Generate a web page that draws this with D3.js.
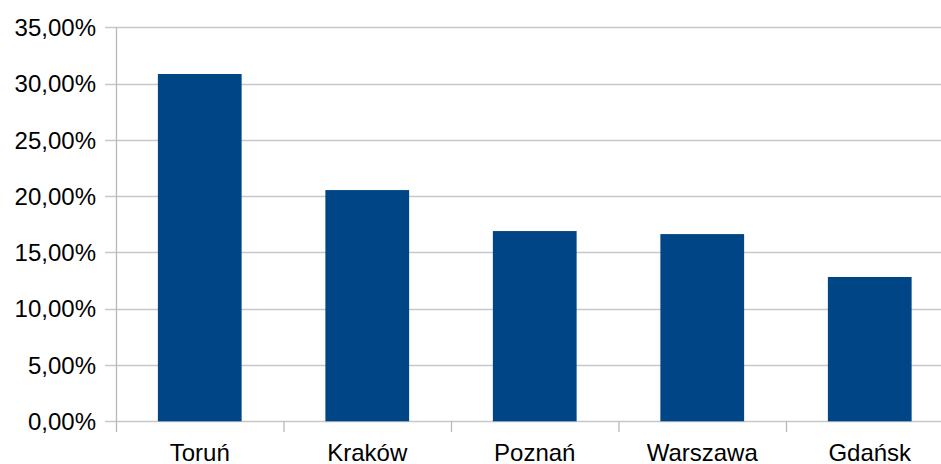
<!DOCTYPE html>
<html>
<head>
<meta charset="utf-8">
<script src="https://cdn.jsdelivr.net/npm/d3@7"></script>
<style>
  html, body { margin: 0; padding: 0; background: #fff; }
  svg { display: block; }
  text { font-family: "Liberation Sans", Arial, sans-serif; font-size: 24px; fill: #000; }
</style>
</head>
<body>
<svg id="chart" width="941" height="464"></svg>
<script>
const categories = ["Toruń", "Kraków", "Poznań", "Warszawa", "Gdańsk"];
const values = [0.3085, 0.2054, 0.1690, 0.1663, 0.1282];
const yTicks = [0, 0.05, 0.10, 0.15, 0.20, 0.25, 0.30, 0.35];

(function () {
const svg = d3.select("#chart");
const mLeft = 116, mRight = 953.5, mTop = 27.3, mBottom = 421.3;

const x = d3.scaleBand().domain(categories).range([mLeft, mRight]).paddingInner(0.5).paddingOuter(0.25);
const xOuter = d3.scaleBand().domain(categories).range([mLeft, mRight]);
const y = d3.scaleLinear().domain([0, 0.35]).range([mBottom, mTop]);

const fmt = v => d3.format(".2f")(v * 100).replace(".", ",") + "%";

// gridlines
svg.append("g").selectAll("line").data(yTicks).join("line")
  .attr("x1", 105).attr("x2", 941)
  .attr("y1", d => Math.round(y(d)) + 0.5).attr("y2", d => Math.round(y(d)) + 0.5)
  .attr("stroke", "#c8c8c8").attr("stroke-width", 1.3);

// y axis line
svg.append("line").attr("x1", mLeft + 0.5).attr("x2", mLeft + 0.5)
  .attr("y1", mTop).attr("y2", 432).attr("stroke", "#b8b8b8").attr("stroke-width", 1.3);

// category tick marks
svg.append("g").selectAll("line").data(categories.slice(1)).join("line")
  .attr("x1", d => xOuter(d) + 0.5).attr("x2", d => xOuter(d) + 0.5)
  .attr("y1", mBottom).attr("y2", 432).attr("stroke", "#b8b8b8").attr("stroke-width", 1.3);

// bars
svg.append("g").selectAll("rect").data(values).join("rect")
  .attr("x", (d, i) => x(categories[i]))
  .attr("width", x.bandwidth())
  .attr("y", d => y(d))
  .attr("height", d => mBottom - y(d))
  .attr("fill", "#004586");

// y labels
svg.append("g").selectAll("text").data(yTicks).join("text")
  .attr("x", 96).attr("y", d => y(d)).attr("dy", "0.36em")
  .attr("text-anchor", "end").text(fmt);

// x labels
svg.append("g").selectAll("text").data(categories).join("text")
  .attr("x", d => xOuter(d) + xOuter.bandwidth() / 2).attr("y", 461)
  .attr("text-anchor", "middle").text(d => d);
})();
</script>
</body>
</html>
